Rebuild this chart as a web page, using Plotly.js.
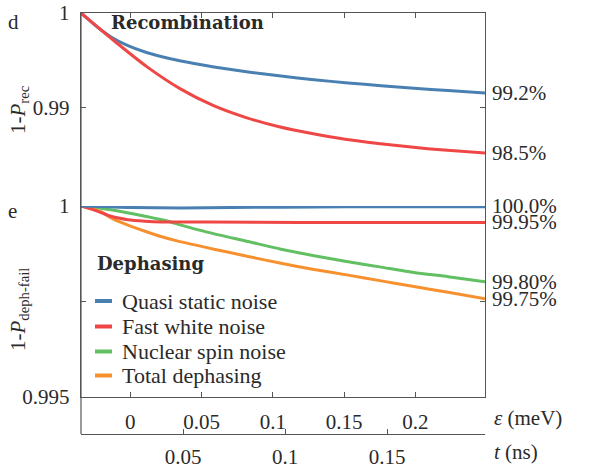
<!DOCTYPE html>
<html>
<head>
<meta charset="utf-8">
<script src="https://cdn.plot.ly/plotly-3.0.1.min.js"></script>
<style>html,body{margin:0;padding:0;background:#fff}#chart{width:591px;height:473px}</style>
</head>
<body>
<div id="chart"></div>
<script>
// ---- data (time axis t in ns) ----
var tRecBlue = [0, 0.0083, 0.0147, 0.023, 0.0314, 0.0392, 0.049, 0.0652, 0.0819, 0.098, 0.1142, 0.1309, 0.1471, 0.1632, 0.1799, 0.198];
var recQuasi = [1.0, 0.99847, 0.99748, 0.99656, 0.99589, 0.99542, 0.99494, 0.99432, 0.99379, 0.99336, 0.99298, 0.99263, 0.99235, 0.99209, 0.99183, 0.99158];
var tRecRed = [0, 0.0162, 0.0324, 0.0485, 0.0647, 0.0809, 0.0971, 0.1132, 0.1294, 0.1456, 0.1618, 0.1779, 0.198];
var recWhite = [1.0, 0.99708, 0.99433, 0.99204, 0.99027, 0.98899, 0.98802, 0.98731, 0.98671, 0.98626, 0.98588, 0.98557, 0.98525];

var tDephBlue = [0, 0.0245, 0.049, 0.0735, 0.098, 0.1307, 0.1634, 0.198];
var dephQuasi = [1.0, 0.99996, 0.99995, 0.99996, 0.99997, 0.99998, 0.99998, 0.99998];
var tDephRed = [0, 0.0083, 0.0147, 0.023, 0.0314, 0.0392, 0.0623, 0.1074, 0.198];
var dephWhite = [1.0, 0.99986, 0.99973, 0.99964, 0.9996, 0.99958, 0.99958, 0.99957, 0.99957];
var tDephGreen = [0, 0.0147, 0.0314, 0.0426, 0.049, 0.0623, 0.0819, 0.098, 0.1142, 0.1309, 0.1471, 0.1632, 0.1799, 0.198];
var dephNuclear = [1.0, 0.9999, 0.99973, 0.9996, 0.9995, 0.99931, 0.99907, 0.99887, 0.9987, 0.99854, 0.9984, 0.99826, 0.99815, 0.99802];
var tDephOrange = [0, 0.0098, 0.0147, 0.023, 0.0314, 0.0392, 0.0475, 0.0652, 0.0819, 0.098, 0.1142, 0.1309, 0.1471, 0.1632, 0.1799, 0.198];
var dephTotal = [1.0, 0.99985, 0.99969, 0.9995, 0.99934, 0.9992, 0.99908, 0.99887, 0.99868, 0.9985, 0.99834, 0.99819, 0.99804, 0.99789, 0.99774, 0.99757];

var seriesNames = ["Quasi static noise", "Fast white noise", "Nuclear spin noise", "Total dephasing"];
var recEndLabels = ["99.2%", "98.5%"];
var dephEndLabels = ["100.0%", "99.95%", "99.80%", "99.75%"];

var epsTicks = [0, 0.05, 0.1, 0.15, 0.2];
var epsTickText = ["0", "0.05", "0.1", "0.15", "0.2"];
var tTicks = [0.05, 0.1, 0.15];
var tTickText = ["0.05", "0.1", "0.15"];
var recYTicks = [0.99, 1];
var recYTickText = ["0.99", "1"];
var dephYTicks = [0.995, 0.9975, 1];
var dephYTickText = ["0.995", " ", "1"];

// ---- style ----
var colors = ["#4a80b1", "#ef4646", "#62bf62", "#f7912f"];
var serif = "Liberation Serif, Times New Roman, serif";
var bold = "DejaVu Serif, serif";
var txt = "#2a2a2a";
var axc = "#555555";
var LW = 3;

function line(x, y, yax, c) {
  return {x: x, y: y, xaxis: "x", yaxis: yax, type: "scatter", mode: "lines",
    line: {color: c, width: LW, shape: "spline", smoothing: 0.6}, showlegend: false, hoverinfo: "skip"};
}
var traces = [
  line(tRecBlue, recQuasi, "y2", colors[0]),
  line(tRecRed, recWhite, "y2", colors[1]),
  line(tDephGreen, dephNuclear, "y", colors[2]),
  line(tDephOrange, dephTotal, "y", colors[3]),
  line(tDephRed, dephWhite, "y", colors[1]),
  line(tDephBlue, dephQuasi, "y", colors[0]),
  // empty traces so that the energy axes (bottom and top) get their subplots
  {x: [], y: [], xaxis: "x2", yaxis: "y", type: "scatter", mode: "lines", showlegend: false, hoverinfo: "skip"},
  {x: [], y: [], xaxis: "x3", yaxis: "y2", type: "scatter", mode: "lines", showlegend: false, hoverinfo: "skip"}
];

// pixel helpers (plot area: x 81..485, y 13..434)
function px(x) { return (x - 81) / 404; }
function py(y) { return (434 - y) / 421; }

var annotations = [];
var shapes = [];
var endFont = {family: serif, size: 21, color: txt};
// end labels
var recEnds = [recQuasi[recQuasi.length - 1], recWhite[recWhite.length - 1]];
recEndLabels.forEach(function (s, i) {
  annotations.push({xref: "paper", yref: "y2", x: 1, y: recEnds[i], xanchor: "left", yanchor: "middle",
    xshift: 5, text: s, showarrow: false, font: endFont});
});
var dephEnds = [1.0, dephWhite[dephWhite.length - 1], dephNuclear[dephNuclear.length - 1], dephTotal[dephTotal.length - 1]];
dephEndLabels.forEach(function (s, i) {
  annotations.push({xref: "paper", yref: "y", x: 1, y: dephEnds[i], xanchor: "left", yanchor: "middle",
    xshift: 5, text: s, showarrow: false, font: endFont});
});
// legend (manual)
var legY = [301, 326.5, 351.5, 375.5];
seriesNames.forEach(function (s, i) {
  shapes.push({type: "line", xref: "paper", yref: "paper", x0: px(95), x1: px(112), y0: py(legY[i]), y1: py(legY[i]),
    line: {color: colors[i], width: 4}});
  annotations.push({xref: "paper", yref: "paper", x: px(120), y: py(legY[i]), xanchor: "left", yanchor: "middle",
    text: s, showarrow: false, font: {family: serif, size: 22, color: txt}});
});
annotations.push({xref: "paper", yref: "paper", x: px(109), y: py(23), xanchor: "left", yanchor: "middle",
  text: "<b>Recombination</b>", showarrow: false, font: {family: bold, size: 18, color: txt}});
annotations.push({xref: "paper", yref: "paper", x: px(95), y: py(263), xanchor: "left", yanchor: "middle",
  text: "<b>Dephasing</b>", showarrow: false, font: {family: bold, size: 18, color: txt}});
annotations.push({xref: "paper", yref: "paper", x: px(6), y: py(22), xanchor: "left", yanchor: "middle",
  text: "d", showarrow: false, font: {family: serif, size: 21, color: txt}});
annotations.push({xref: "paper", yref: "paper", x: px(6), y: py(211), xanchor: "left", yanchor: "middle",
  text: "e", showarrow: false, font: {family: serif, size: 21, color: txt}});
annotations.push({xref: "paper", yref: "paper", x: px(19), y: py(110), xanchor: "center", yanchor: "middle", textangle: -90,
  text: "1-<i>P</i><sub>rec</sub>", showarrow: false, font: {family: serif, size: 21, color: txt}});
annotations.push({xref: "paper", yref: "paper", x: px(19), y: py(310), xanchor: "center", yanchor: "middle", textangle: -90,
  text: "1-<i>P</i><sub>deph-fail</sub>", showarrow: false, font: {family: serif, size: 21, color: txt}});
annotations.push({xref: "paper", yref: "paper", x: px(492), y: py(418), xanchor: "left", yanchor: "middle",
  text: "<i>ε</i> (meV)", showarrow: false, font: {family: serif, size: 21, color: txt}});
annotations.push({xref: "paper", yref: "paper", x: px(492), y: py(452), xanchor: "left", yanchor: "middle",
  text: "<i>t</i> (ns)", showarrow: false, font: {family: serif, size: 21, color: txt}});

// left frame line down to t axis
shapes.push({type: "line", xref: "paper", yref: "paper", x0: 0, x1: 0, y0: 0, y1: 1, line: {color: axc, width: 1.2}});

var tickFont = {family: serif, size: 21, color: txt};
var layout = {
  width: 591, height: 473,
  margin: {l: 81, r: 106, t: 13, b: 39},
  paper_bgcolor: "#ffffff", plot_bgcolor: "rgba(0,0,0,0)",
  showlegend: false,
  xaxis: {range: [0, 0.198], anchor: "free", position: 0, side: "bottom", domain: [0, 1],
    tickmode: "array", tickvals: tTicks, ticktext: tTickText, ticks: "inside", ticklen: 5, tickcolor: axc,
    showline: true, linecolor: axc, linewidth: 1.2, showgrid: false, zeroline: false, tickfont: tickFont,
    ticklabelstandoff: 4},
  xaxis2: {range: [-0.0345, 0.2488], overlaying: "x", anchor: "y", side: "bottom",
    tickmode: "array", tickvals: epsTicks, ticktext: epsTickText, ticks: "inside", ticklen: 5, tickcolor: axc,
    showline: true, linecolor: axc, linewidth: 1.2, showgrid: false, zeroline: false, tickfont: tickFont,
    ticklabelstandoff: 6},
  xaxis3: {range: [-0.0345, 0.2488], overlaying: "x", anchor: "y2", side: "top",
    tickmode: "array", tickvals: epsTicks, ticks: "inside", ticklen: 5, tickcolor: axc, showticklabels: false,
    showline: true, linecolor: axc, linewidth: 1.2, showgrid: false, zeroline: false},
  yaxis: {domain: [0.08789, 0.54157], range: [0.995, 1.0], anchor: "x",
    tickmode: "array", tickvals: dephYTicks, ticktext: dephYTickText, ticks: "inside", ticklen: 5, tickcolor: axc,
    showline: true, mirror: "ticks", linecolor: axc, linewidth: 1.2, showgrid: false, zeroline: false, tickfont: tickFont,
    ticklabelstandoff: 6},
  yaxis2: {domain: [0.54157, 1], range: [0.97968, 1.0], anchor: "x",
    tickmode: "array", tickvals: recYTicks, ticktext: recYTickText, ticks: "inside", ticklen: 5, tickcolor: axc,
    showline: true, mirror: "ticks", linecolor: axc, linewidth: 1.2, showgrid: false, zeroline: false, tickfont: tickFont,
    ticklabelstandoff: 6},
  annotations: annotations,
  shapes: shapes
};
Plotly.newPlot("chart", traces, layout, {displayModeBar: false, staticPlot: true});
</script>
</body>
</html>
